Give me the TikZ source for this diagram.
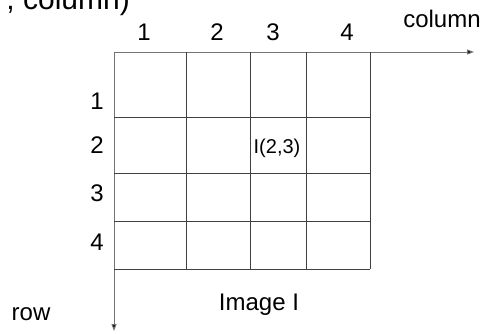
\documentclass[tikz,border=0pt]{standalone}
\usepackage{fontspec}
\setmainfont{Liberation Sans}
\usetikzlibrary{arrows.meta, positioning}

\begin{document}
\begin{tikzpicture}[
        x=1pt, y=-1pt,
        lbl/.style={font=\fontsize{24}{28}\selectfont, inner sep=0pt},
        cell/.style={font=\fontsize{20}{24}\selectfont, inner sep=0pt},
        gridline/.style={draw=black!75, line width=1pt},
        axis/.style={draw=black!55, line width=1pt, -{Triangle[width=5pt, length=7pt, fill=black]}}
    ]
    \useasboundingbox (0,0) rectangle (484,333);

    % title, cut off at the top
    \node[font=\fontsize{30}{34}\selectfont, inner sep=0pt, anchor=base east]
          (title) at (130,9) {, column)};

    % axes
    \coordinate (origin) at (114,52);
    \coordinate (colend) at (474,52);
    \coordinate (rowend) at (114,331);
    \draw[axis] (origin) -- (colend);
    \draw[axis] (origin) -- (rowend);

    % grid
    \foreach \x in {186,250,306,370}
        \draw[gridline] (\x,52) -- (\x,269);
    \foreach \y in {117,173,221,269}
        \draw[gridline] (114,\y) -- (370,\y);

    % column and row numbers
    \node[lbl] (c1) at (144,32) {1};
    \node[lbl] (c2) at (217,32) {2};
    \node[lbl] (c3) at (273,32) {3};
    \node[lbl] (c4) at (347,32) {4};
    \node[lbl] (r1) at (97,101) {1};
    \node[lbl] (r2) at (97,145) {2};
    \node[lbl] (r3) at (97,193) {3};
    \node[lbl] (r4) at (97,242) {4};

    \node[lbl, anchor=base] (colname) at (442,27) {column};
    \node[lbl, anchor=base] (rowname) at (31,320) {row};
    \node[cell] (pix) at (277,148) {I(2,3)};
    \node[lbl] (imgname) at (259,305) {Image I};
\end{tikzpicture}
\end{document}
